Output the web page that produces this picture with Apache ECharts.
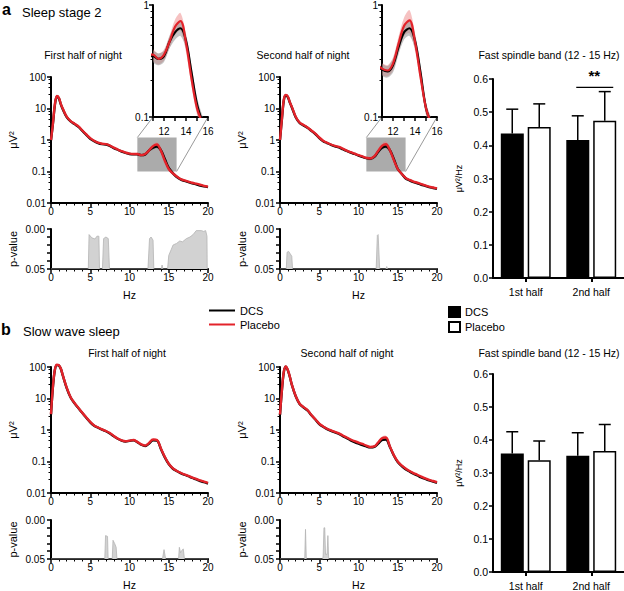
<!DOCTYPE html>
<html>
<head>
<meta charset="utf-8">
<script src="https://cdn.jsdelivr.net/npm/echarts@6/dist/echarts.min.js"></script>
<style>
html, body { margin: 0; padding: 0; background: #fff; }
#chart { width: 624px; height: 591px; }
</style>
</head>
<body>
<div id="chart"></div>
<script>
"use strict";
// frequency points (Hz) shared by every spectrum
var hz = [0, 0.25, 0.5, 0.75, 1, 1.25, 1.5, 2, 2.5, 3, 3.5, 4, 4.5, 5, 5.5, 6, 6.5, 7, 7.5, 8, 8.5, 9, 9.5, 10,
          10.5, 11, 11.5, 12, 12.5, 13, 13.5, 14, 14.5, 15, 15.5, 16, 16.5, 17, 17.5, 18, 18.5, 19, 19.5, 20];

// sleep stage 2 - first half of night (µV²)
var s2FirstDcs = [1.0, 3.4, 13, 24, 21, 13.5, 9.5, 5.3, 3.9, 3.2, 2.6, 1.95, 1.45, 1.1, 0.92, 0.8, 0.74, 0.72, 0.65, 0.55, 0.49, 0.43, 0.39, 0.36,
                  0.35, 0.35, 0.33, 0.35, 0.47, 0.57, 0.62, 0.48, 0.25, 0.13, 0.09, 0.068, 0.056, 0.05, 0.046, 0.042, 0.039, 0.036, 0.034, 0.032];
var s2FirstPla = [1.0, 3.5, 14, 25, 22, 14, 10, 5.5, 4.0, 3.3, 2.7, 2.0, 1.5, 1.15, 0.95, 0.82, 0.76, 0.74, 0.67, 0.57, 0.5, 0.44, 0.4, 0.37,
                  0.36, 0.36, 0.33, 0.36, 0.47, 0.64, 0.72, 0.46, 0.22, 0.12, 0.088, 0.07, 0.058, 0.052, 0.048, 0.044, 0.041, 0.038, 0.035, 0.033];
// sleep stage 2 - second half of night
var s2SecondDcs = [1.0, 4.8, 19, 26, 23, 15.5, 11, 5.3, 3.5, 2.9, 2.45, 1.95, 1.55, 1.15, 0.92, 0.8, 0.7, 0.63, 0.58, 0.51, 0.45, 0.4, 0.36, 0.32,
                   0.29, 0.265, 0.255, 0.29, 0.42, 0.57, 0.62, 0.48, 0.25, 0.12, 0.085, 0.061, 0.052, 0.046, 0.042, 0.038, 0.035, 0.032, 0.03, 0.028];
var s2SecondPla = [1.0, 5, 20, 27, 24, 16, 11.5, 5.5, 3.6, 3.0, 2.5, 2.0, 1.6, 1.2, 0.95, 0.82, 0.72, 0.65, 0.6, 0.53, 0.46, 0.41, 0.37, 0.33,
                   0.3, 0.27, 0.26, 0.3, 0.45, 0.65, 0.73, 0.47, 0.23, 0.12, 0.085, 0.063, 0.054, 0.048, 0.044, 0.04, 0.036, 0.033, 0.031, 0.029];
// slow wave sleep - first half of night
var swsFirstDcs = [3.1, 24, 82, 115, 112, 88, 54, 21.5, 10.8, 7.0, 4.9, 3.45, 2.45, 1.75, 1.37, 1.18, 1.03, 0.91, 0.78, 0.63, 0.53, 0.46, 0.43, 0.45,
                   0.47, 0.41, 0.34, 0.31, 0.37, 0.47, 0.46, 0.25, 0.135, 0.083, 0.06, 0.05, 0.043, 0.038, 0.034, 0.03, 0.027, 0.024, 0.022, 0.02];
var swsFirstPla = [3.2, 25, 85, 118, 115, 90, 55, 22, 11, 7.2, 5.0, 3.5, 2.5, 1.8, 1.4, 1.2, 1.05, 0.93, 0.8, 0.65, 0.54, 0.47, 0.44, 0.46,
                   0.48, 0.42, 0.35, 0.32, 0.39, 0.5, 0.48, 0.26, 0.14, 0.085, 0.062, 0.051, 0.044, 0.039, 0.035, 0.031, 0.028, 0.025, 0.023, 0.021];
// slow wave sleep - second half of night
var swsSecondDcs = [3.0, 19, 72, 102, 78, 49, 27.5, 11.8, 6.7, 5.2, 4.2, 2.95, 2.15, 1.55, 1.26, 1.07, 0.94, 0.84, 0.75, 0.64, 0.55, 0.47, 0.41, 0.37,
                    0.33, 0.3, 0.28, 0.29, 0.37, 0.48, 0.5, 0.29, 0.155, 0.096, 0.072, 0.057, 0.048, 0.041, 0.036, 0.031, 0.028, 0.025, 0.023, 0.021];
var swsSecondPla = [3.1, 20, 75, 105, 80, 50, 28, 12, 6.8, 5.3, 4.3, 3.0, 2.2, 1.6, 1.3, 1.1, 0.97, 0.87, 0.78, 0.67, 0.58, 0.5, 0.44, 0.4,
                    0.36, 0.32, 0.29, 0.3, 0.4, 0.55, 0.58, 0.3, 0.16, 0.1, 0.075, 0.06, 0.05, 0.043, 0.038, 0.033, 0.029, 0.026, 0.024, 0.022];

// SEM around the spindle peak, 11 - 16 Hz in 0.5 Hz steps
var bandHz = [11, 11.5, 12, 12.5, 13, 13.5, 14, 14.5, 15, 15.5, 16];
var s2FirstDcsSem = [0.04, 0.04, 0.04, 0.06, 0.08, 0.09, 0.07, 0.035, 0.02, 0.012, 0.008];
var s2FirstPlaSem = [0.04, 0.035, 0.04, 0.06, 0.1, 0.13, 0.08, 0.03, 0.015, 0.01, 0.008];
var s2SecondDcsSem = [0.03, 0.03, 0.04, 0.06, 0.08, 0.09, 0.07, 0.035, 0.015, 0.01, 0.008];
var s2SecondPlaSem = [0.03, 0.03, 0.04, 0.07, 0.12, 0.17, 0.08, 0.03, 0.015, 0.01, 0.008];
var swsFirstDcsSem = [0.015, 0.015, 0.015, 0.02, 0.025, 0.025, 0.015, 0.008, 0.005, 0.004, 0.003];
var swsFirstPlaSem = [0.015, 0.015, 0.015, 0.02, 0.03, 0.03, 0.015, 0.008, 0.005, 0.004, 0.003];
var swsSecondDcsSem = [0.02, 0.02, 0.025, 0.04, 0.05, 0.05, 0.03, 0.015, 0.01, 0.006, 0.005];
var swsSecondPlaSem = [0.02, 0.02, 0.02, 0.04, 0.07, 0.08, 0.04, 0.015, 0.01, 0.006, 0.005];

// p-values (Hz, p); 0.05 = not significant
var s2FirstP = [[0, 0.05], [4.75, 0.05], [4.85, 0.007], [5.2, 0.011], [5.6, 0.0125], [5.85, 0.009], [6.1, 0.009], [6.18, 0.05],
                [6.55, 0.05], [6.7, 0.012], [7.0, 0.01], [7.3, 0.012], [7.45, 0.05], [12.35, 0.05], [12.55, 0.012], [12.75, 0.01],
                [13.0, 0.014], [13.1, 0.05], [14.05, 0.05], [14.15, 0.045], [14.25, 0.05], [14.85, 0.05], [15.0, 0.033], [15.3, 0.026],
                [15.55, 0.02], [16.0, 0.018], [16.4, 0.015], [16.75, 0.016], [17.25, 0.012], [17.7, 0.01], [18.1, 0.007], [18.5, 0.002],
                [19.15, 0.002], [19.45, 0.003], [19.7, 0.002], [19.87, 0.009], [19.9, 0.05], [20, 0.05]];
var s2SecondP = [[0, 0.05], [0.8, 0.05], [0.9, 0.029], [1.1, 0.028], [1.3, 0.031], [1.5, 0.034], [1.6, 0.05], [12.25, 0.05],
                 [12.4, 0.008], [12.5, 0.007], [12.7, 0.05], [13.5, 0.05], [13.6, 0.047], [13.7, 0.05], [20, 0.05]];
var swsFirstP = [[0, 0.05], [6.85, 0.05], [6.95, 0.02], [7.2, 0.021], [7.28, 0.05], [7.8, 0.05], [7.9, 0.026], [8.1, 0.03],
                 [8.3, 0.035], [8.4, 0.05], [14.2, 0.05], [14.4, 0.038], [14.6, 0.05], [16.25, 0.05], [16.35, 0.035], [16.5, 0.042],
                 [16.6, 0.04], [16.85, 0.037], [17.0, 0.05], [20, 0.05]];
var swsSecondP = [[0, 0.05], [3.15, 0.05], [3.25, 0.012], [3.35, 0.05], [5.45, 0.05], [5.5, 0.045], [5.6, 0.01], [5.7, 0.01],
                  [5.8, 0.044], [6.0, 0.044], [6.1, 0.02], [6.2, 0.05], [20, 0.05]];

// fast spindle band power (µV²/Hz), mean and SEM
var barCats = ['1st half', '2nd half'];
var s2BarDcs = [0.436, 0.416];
var s2BarDcsSem = [0.073, 0.073];
var s2BarPla = [0.455, 0.474];
var s2BarPlaSem = [0.07, 0.088];
var swsBarDcs = [0.359, 0.352];
var swsBarDcsSem = [0.066, 0.07];
var swsBarPla = [0.339, 0.367];
var swsBarPlaSem = [0.058, 0.08];
var s2Sig = [1, 0.575];   // "**" over 2nd half

var zoomHz = [11, 16];     // inset / grey box range
var zoomPow = [0.1, 1.2];

var FONT = '"Liberation Sans", Arial, sans-serif';
var RED = '#e3232a';
var chart = echarts.init(document.getElementById('chart'), null, {renderer: 'svg', width: 624, height: 591});

var grid = [], xAxis = [], yAxis = [], series = [];

function pairs(xs, ys) {
    return xs.map(function (x, i) { return [x, ys[i]]; });
}
function axisLine() { return {show: true, onZero: false, lineStyle: {color: '#000', width: 2}}; }
function tick(len) { return {show: true, length: len, lineStyle: {color: '#000', width: 1.5}}; }
function minor(n, len) { return {show: true, splitNumber: n, length: len, lineStyle: {color: '#000', width: 1}}; }
function label(size, margin, fmt) {
    return {color: '#000', fontSize: size, fontFamily: FONT, margin: margin, formatter: fmt};
}
function logFmt(v) { return String(parseFloat(Number(v).toPrecision(2))); }
function nameStyle(size) { return {color: '#000', fontSize: size, fontFamily: FONT}; }

function lineSeries(name, g, data, color, width, clip) {
    return {
        type: 'line', name: name, xAxisIndex: g, yAxisIndex: g, data: data, clip: clip,
        showSymbol: false, smooth: 0.35, silent: true, z: 3,
        itemStyle: {color: color}, lineStyle: {color: color, width: width}
    };
}

function bandSeries(g, mean, sem, color) {
    var start = hz.indexOf(bandHz[0]);
    return {
        type: 'custom', xAxisIndex: g, yAxisIndex: g, silent: true, z: 2, data: [0],
        renderItem: function (params, api) {
            var pts = [], i;
            for (i = 0; i < bandHz.length; i++) pts.push(api.coord([bandHz[i], mean[start + i] + sem[i]]));
            for (i = bandHz.length - 1; i >= 0; i--) pts.push(api.coord([bandHz[i], mean[start + i] - sem[i]]));
            var cs = params.coordSys;
            return {
                type: 'polygon', shape: {points: pts, smooth: 0.3}, style: {fill: color},
                clipPath: {type: 'rect', shape: {x: cs.x, y: cs.y, width: cs.width, height: cs.height}}
            };
        }
    };
}

// one spectrum panel: main log plot + p-value strip
function spectrum(left, top, pTop, dcs, pla, dcsSem, plaSem, pvals, withBox) {
    var g = grid.length;
    grid.push({left: left, top: top, width: 157, height: 126});
    xAxis.push({gridIndex: g, type: 'value', min: 0, max: 20, interval: 5, axisLine: axisLine(), axisTick: tick(4),
        minorTick: minor(5, 2.5), splitLine: {show: false}, axisLabel: label(10, 3)});
    yAxis.push({gridIndex: g, type: 'log', logBase: 10, min: 0.01, max: 100, axisLine: axisLine(), axisTick: tick(4),
        minorTick: minor(5, 2.5), splitLine: {show: false}, axisLabel: label(10, 5, logFmt),
        name: 'μV²', nameLocation: 'middle', nameGap: 33, nameTextStyle: nameStyle(11)});
    if (withBox) {
        series.push({
            type: 'custom', xAxisIndex: g, yAxisIndex: g, silent: true, z: 1,
            data: [[zoomHz[0], zoomPow[0], zoomHz[1], zoomPow[1]]],
            renderItem: function (params, api) {
                var a = api.coord([api.value(0), api.value(3)]);
                var b = api.coord([api.value(2), api.value(1)]);
                return {type: 'rect', shape: {x: a[0], y: a[1], width: b[0] - a[0], height: b[1] - a[1]},
                        style: {fill: '#ababab'}};
            }
        });
    }
    series.push(bandSeries(g, pla, plaSem, 'rgba(236,120,120,0.45)'));
    series.push(bandSeries(g, dcs, dcsSem, 'rgba(140,140,140,0.45)'));
    series.push(lineSeries('DCS', g, pairs(hz, dcs), '#000', 2.4, false));
    series.push(lineSeries('Placebo', g, pairs(hz, pla), RED, 2.4, false));

    var p = grid.length;
    grid.push({left: left, top: pTop, width: 157, height: 40});
    xAxis.push({gridIndex: p, type: 'value', min: 0, max: 20, interval: 5, axisLine: axisLine(), axisTick: tick(4),
        minorTick: minor(5, 2.5), splitLine: {show: false}, axisLabel: label(10, 3),
        name: 'Hz', nameLocation: 'middle', nameGap: 20, nameTextStyle: nameStyle(10.5)});
    yAxis.push({gridIndex: p, type: 'value', inverse: true, min: 0, max: 0.05, interval: 0.01, axisLine: axisLine(),
        axisTick: tick(4), splitLine: {show: false},
        axisLabel: label(10, 6, function (v) { return (v === 0 || Math.abs(v - 0.05) < 1e-9) ? v.toFixed(2) : ''; }),
        name: 'p-value', nameLocation: 'middle', nameGap: 33, nameTextStyle: nameStyle(11)});
    series.push({
        type: 'line', name: 'p-value', xAxisIndex: p, yAxisIndex: p, data: pvals, showSymbol: false, silent: true,
        lineStyle: {color: '#b4b4b4', width: 0.8}, areaStyle: {color: '#d2d2d2', opacity: 1, origin: 'end'}
    });
    return g;
}

function inset(left, dcs, pla, dcsSem, plaSem) {
    var g = grid.length;
    grid.push({left: left, top: 5, width: 55, height: 112});
    xAxis.push({gridIndex: g, type: 'value', min: zoomHz[0], max: zoomHz[1], interval: 1, axisLine: axisLine(),
        axisTick: tick(4), splitLine: {show: false},
        axisLabel: label(10, 9, function (v) { return v % 2 === 0 ? String(v) : ''; })});
    yAxis.push({gridIndex: g, type: 'log', logBase: 10, min: 0.1, max: 1, axisLine: axisLine(), axisTick: tick(4),
        minorTick: minor(8, 2.5), splitLine: {show: false}, axisLabel: label(10, 4, logFmt)});
    series.push(bandSeries(g, pla, plaSem, 'rgba(236,120,120,0.45)'));
    series.push(bandSeries(g, dcs, dcsSem, 'rgba(140,140,140,0.5)'));
    series.push(lineSeries('DCS', g, pairs(hz, dcs), '#000', 2.2, true));
    series.push(lineSeries('Placebo', g, pairs(hz, pla), RED, 2.2, true));
    return g;
}

function errorSeries(g, mean, sem, shift) {
    return {
        type: 'custom', xAxisIndex: g, yAxisIndex: g, silent: true, z: 1,
        data: mean.map(function (m, i) { return [i, m, sem[i]]; }),
        renderItem: function (params, api) {
            var base = api.coord([api.value(0), api.value(1)]);
            var top = api.coord([api.value(0), api.value(1) + api.value(2)]);
            var x = base[0] + shift;
            var st = {stroke: '#000', lineWidth: 1.5};
            return {type: 'group', children: [
                {type: 'line', shape: {x1: x, y1: base[1], x2: x, y2: top[1]}, style: st},
                {type: 'line', shape: {x1: x - 6, y1: top[1], x2: x + 6, y2: top[1]}, style: st}
            ]};
        }
    };
}

function barPanel(top, height, dcs, dcsSem, pla, plaSem, sig) {
    var g = grid.length;
    grid.push({left: 493, top: top, width: 132, height: height});
    xAxis.push({gridIndex: g, type: 'category', data: barCats, axisLine: axisLine(),
        axisTick: {show: true, alignWithLabel: true, length: 4, lineStyle: {color: '#000', width: 2}},
        axisLabel: label(10.5, 8)});
    yAxis.push({gridIndex: g, type: 'value', min: 0, max: 0.6, interval: 0.1, axisLine: axisLine(), axisTick: tick(4),
        splitLine: {show: false}, axisLabel: label(10.5, 5, function (v) { return v.toFixed(1); }),
        name: 'μV²/Hz', nameLocation: 'middle', nameGap: 30, nameTextStyle: nameStyle(9)});
    series.push({type: 'bar', name: 'DCS (bar)', xAxisIndex: g, yAxisIndex: g, data: dcs, barWidth: 23, barGap: '17%',
        silent: true, z: 3, itemStyle: {color: '#000', borderColor: '#000', borderWidth: 1.5}});
    series.push({type: 'bar', name: 'Placebo (bar)', xAxisIndex: g, yAxisIndex: g, data: pla, barWidth: 23, barGap: '17%',
        silent: true, z: 3, itemStyle: {color: '#fff', borderColor: '#000', borderWidth: 1.5}});
    series.push(errorSeries(g, dcs, dcsSem, -13.5));
    series.push(errorSeries(g, pla, plaSem, 13.5));
    if (sig) {
        series.push({
            type: 'custom', xAxisIndex: g, yAxisIndex: g, silent: true, z: 4, data: [sig],
            renderItem: function (params, api) {
                var c = api.coord([api.value(0), api.value(1)]);
                return {type: 'group', children: [
                    {type: 'line', shape: {x1: c[0] - 15, y1: c[1], x2: c[0] + 22, y2: c[1]},
                     style: {stroke: '#000', lineWidth: 1.2}},
                    {type: 'text', x: c[0] + 3, y: c[1] - 4,
                     style: {text: '**', fill: '#000', font: 'bold 15px ' + FONT, align: 'center', verticalAlign: 'bottom'}}
                ]};
            }
        });
    }
    return g;
}

var mainA1 = spectrum(51, 77, 229, s2FirstDcs, s2FirstPla, s2FirstDcsSem, s2FirstPlaSem, s2FirstP, true);
var insetA1 = inset(153, s2FirstDcs, s2FirstPla, s2FirstDcsSem, s2FirstPlaSem);
var mainA2 = spectrum(280, 77, 229, s2SecondDcs, s2SecondPla, s2SecondDcsSem, s2SecondPlaSem, s2SecondP, true);
var insetA2 = inset(382, s2SecondDcs, s2SecondPla, s2SecondDcsSem, s2SecondPlaSem);
barPanel(79, 199, s2BarDcs, s2BarDcsSem, s2BarPla, s2BarPlaSem, s2Sig);
spectrum(51, 367, 520, swsFirstDcs, swsFirstPla, swsFirstDcsSem, swsFirstPlaSem, swsFirstP, false);
spectrum(280, 367, 520, swsSecondDcs, swsSecondPla, swsSecondDcsSem, swsSecondPlaSem, swsSecondP, false);
barPanel(374, 200, swsBarDcs, swsBarDcsSem, swsBarPla, swsBarPlaSem, null);

var legendText = {color: '#000', fontSize: 11, fontFamily: FONT};
var option = {
    animation: false,
    backgroundColor: '#fff',
    textStyle: {fontFamily: FONT},
    grid: grid,
    xAxis: xAxis,
    yAxis: yAxis,
    series: series,
    legend: [
        {left: 204, top: 300, orient: 'vertical', itemWidth: 26, itemHeight: 2, itemGap: 3, selectedMode: false,
         textStyle: legendText, data: [{name: 'DCS', icon: 'rect'}, {name: 'Placebo', icon: 'rect'}]},
        {left: 443, top: 301, orient: 'vertical', itemWidth: 11, itemHeight: 10, itemGap: 3, selectedMode: false,
         textStyle: legendText, data: [{name: 'DCS (bar)', icon: 'rect'}, {name: 'Placebo (bar)', icon: 'rect'}],
         formatter: function (n) { return n.replace(' (bar)', ''); }}
    ]
};
chart.setOption(option);

// texts + the grey lines linking each box to its inset
function txt(s, x, y, font, align) {
    return {type: 'text', x: x, y: y, silent: true,
            style: {text: s, fill: '#000', font: font, align: align || 'left', verticalAlign: 'middle'}};
}
var graphics = [
    txt('a', 2, 9, 'bold 16px ' + FONT),
    txt('Sleep stage 2', 22, 12, '13px ' + FONT),
    txt('First half of night', 83, 55, '10.5px ' + FONT, 'center'),
    txt('Second half of night', 303, 55, '10.5px ' + FONT, 'center'),
    txt('Fast spindle band (12 - 15 Hz)', 549, 55, '10.5px ' + FONT, 'center'),
    txt('b', 1, 329, 'bold 16px ' + FONT),
    txt('Slow wave sleep', 23, 331, '13px ' + FONT),
    txt('First half of night', 127, 353, '10.5px ' + FONT, 'center'),
    txt('Second half of night', 347, 353, '10.5px ' + FONT, 'center'),
    txt('Fast spindle band (12 - 15 Hz)', 549, 353, '10.5px ' + FONT, 'center')
];
[[mainA1, insetA1], [mainA2, insetA2]].forEach(function (pr) {
    var m = {xAxisIndex: pr[0], yAxisIndex: pr[0]}, n = {xAxisIndex: pr[1], yAxisIndex: pr[1]};
    var a = chart.convertToPixel(m, [zoomHz[0], zoomPow[1]]);
    var b = chart.convertToPixel(n, [zoomHz[0], zoomPow[0]]);
    var c = chart.convertToPixel(m, [zoomHz[1], zoomPow[0]]);
    var d = chart.convertToPixel(n, [zoomHz[1], zoomPow[0]]);
    [[a, b], [c, d]].forEach(function (s) {
        graphics.push({type: 'line', silent: true, z: 0,
            shape: {x1: s[0][0], y1: s[0][1], x2: s[1][0], y2: s[1][1]},
            style: {stroke: '#9a9a9a', lineWidth: 1}});
    });
});
chart.setOption({graphic: graphics});
</script>
</body>
</html>
